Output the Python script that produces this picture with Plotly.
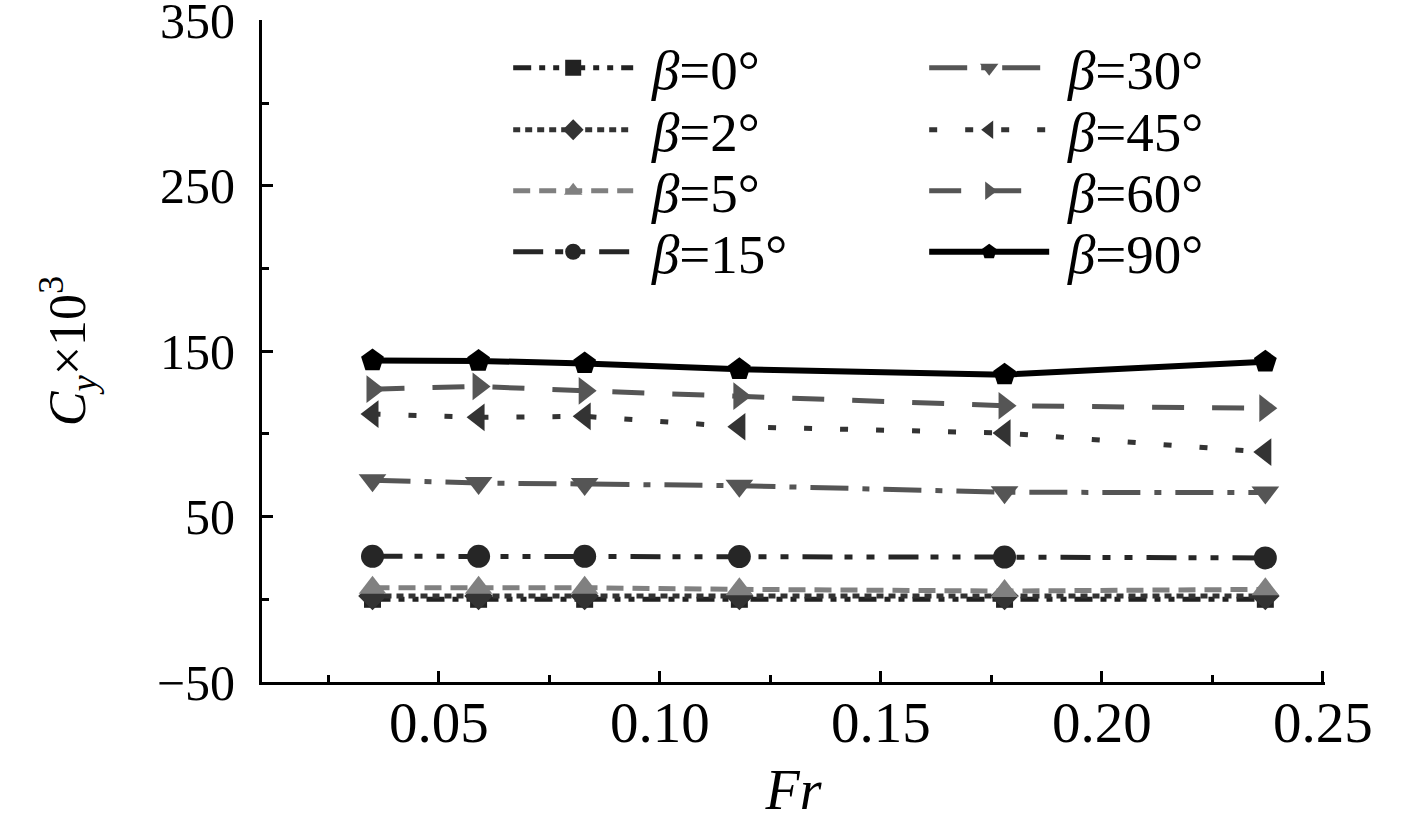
import plotly.graph_objects as go

fr = [0.035, 0.059, 0.083, 0.118, 0.178, 0.237]

labels = ["0", "2", "5", "15", "30", "45", "60", "90"]
b0 = [0, 0, 0, 0, 0, 0]
b2 = [2, 2, 2, 2, 2, 2]
b5 = [7, 7, 7, 6, 5, 6]
b15 = [26, 26, 26, 25.8, 25.5, 25]
b30 = [72, 70.3, 69.7, 68.7, 64.7, 64.5]
b45 = [112, 110, 110.6, 104.3, 100.5, 89]
b60 = [127, 128.7, 126, 122.8, 117, 115.5]
b90 = [144.4, 144.1, 142.6, 139, 135.8, 143.6]

y_ticks = [-50, 50, 150, 250, 350]
x_ticks = [0.05, 0.10, 0.15, 0.20, 0.25]
x_tick_text = ["0.05", "0.10", "0.15", "0.20", "0.25"]

series = [b0, b2, b5, b15, b30, b45, b60, b90]

styles = [
    dict(color="#222222", dash="18px,8px,6px,8px,6px,8px", symbol="square", size=17, width=5),
    dict(color="#333333", dash="7px,5px", symbol="diamond", size=22, width=5),
    dict(color="#808080", dash="17px,9px", symbol="triangle-up", size=24, width=5),
    dict(color="#262626", dash="30px,12px,8px,14px,8px,14px", symbol="circle", size=23, width=5),
    dict(color="#555555", dash="38px,14px,7px,14px", symbol="triangle-down", size=24, width=5),
    dict(color="#333333", dash="8px,28px", symbol="triangle-left", size=24, width=5),
    dict(color="#555555", dash="32px,28px", symbol="triangle-right", size=24, width=5),
    dict(color="#000000", dash="solid", symbol="pentagon", size=24, width=6),
]
# legend rows: (0,30),(2,45),(5,60),(15,90)
legend_ids = ["legend", "legend2", "legend3", "legend4", "legend", "legend2", "legend3", "legend4"]
ranks = [1, 1, 1, 1, 2, 2, 2, 2]

fig = go.Figure()
for lab, vals, st, lg, rk in zip(labels, series, styles, legend_ids, ranks):
    fig.add_trace(go.Scatter(
        x=fr, y=vals, mode="lines+markers",
        name=f"\u2005<i>β</i>={lab}°",
        legend=lg, legendrank=rk,
        line=dict(color=st["color"], dash=st["dash"], width=st["width"]),
        marker=dict(symbol=st["symbol"], size=st["size"], color=st["color"]),
    ))

font_family = "Liberation Serif, Times New Roman, serif"

plot_top, plot_bottom = 20, 682
row_centers = [68, 130, 191, 252]


def legend_row(yc):
    return dict(
        orientation="h",
        x=0.2316, y=(plot_bottom - yc) / (plot_bottom - plot_top),
        xanchor="left", yanchor="middle",
        font=dict(size=55, family=font_family, color="black"),
        itemwidth=120,
        entrywidth=281, entrywidthmode="pixels",
        bgcolor="rgba(0,0,0,0)",
        traceorder="normal",
    )


fig.update_layout(
    width=1417, height=821,
    margin=dict(l=262, r=92, t=20, b=139, autoexpand=False),
    paper_bgcolor="white", plot_bgcolor="white",
    font=dict(family=font_family, color="black"),
    showlegend=True,
    legend=legend_row(row_centers[0]),
    legend2=legend_row(row_centers[1]),
    legend3=legend_row(row_centers[2]),
    legend4=legend_row(row_centers[3]),
    xaxis=dict(
        range=[0.01, 0.2505],
        automargin=False,
        showline=True, linecolor="black", linewidth=3,
        ticks="inside", ticklen=11, tickwidth=3, tickcolor="black",
        tickmode="array", tickvals=x_ticks, ticktext=x_tick_text,
        minor=dict(ticks="inside", ticklen=7, tickwidth=3, tickcolor="black", dtick=0.025, tick0=0),
        showgrid=False, zeroline=False,
        tickfont=dict(size=57, family=font_family),
        ticklabelstandoff=-11,
        ticklabeloverflow="allow",
        title=dict(text="<i>Fr</i>", font=dict(size=56, family=font_family), standoff=38),
    ),
    yaxis=dict(
        range=[-50, 350.2],
        automargin=False,
        showline=True, linecolor="black", linewidth=3,
        ticks="inside", ticklen=11, tickwidth=3, tickcolor="black",
        tickmode="array", tickvals=y_ticks,
        minor=dict(ticks="inside", ticklen=7, tickwidth=3, tickcolor="black", dtick=50, tick0=-50),
        showgrid=False, zeroline=False,
        tickfont=dict(size=50, family=font_family),
        ticklabelstandoff=14,
        ticklabeloverflow="allow",
        title=dict(text="<i>C</i><sub><i>y</i></sub>×10<sup>3</sup>", font=dict(size=52, family=font_family), standoff=55),
    ),
)

fig.write_html(
    "out.html",
    config={"displayModeBar": False},
    post_script="document.body.style.margin='0';",
)
